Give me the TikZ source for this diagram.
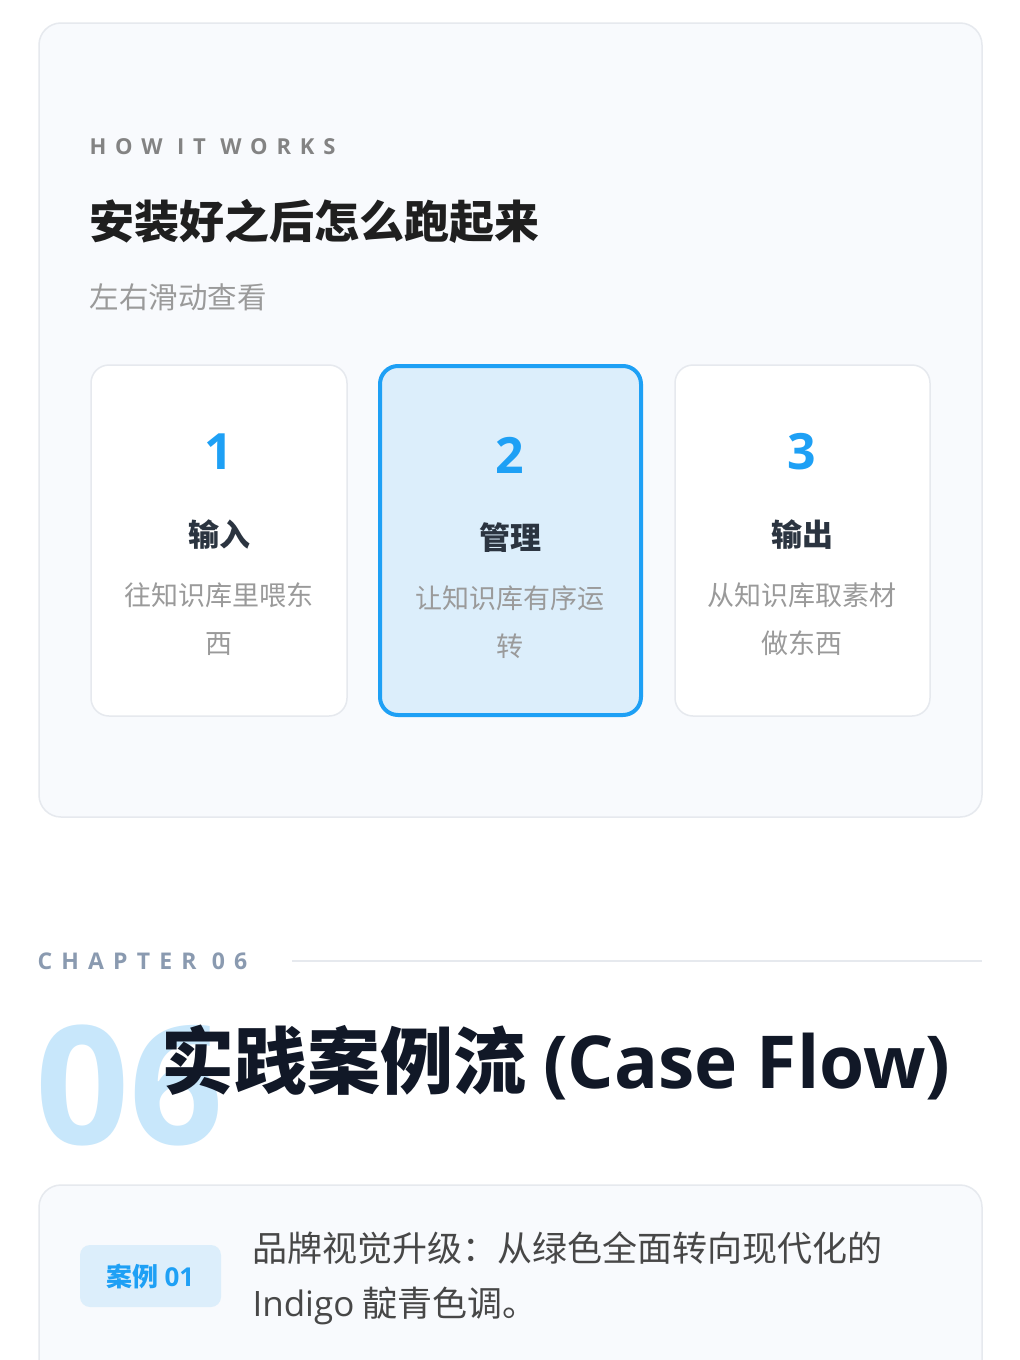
\documentclass[tikz,border=0pt]{standalone}
\usepackage{fontspec}
\setmainfont{Noto Sans CJK SC}
\newfontfamily\latinf{Open Sans}
\newfontfamily\spaced[LetterSpace=40]{Open Sans}
\definecolor{cardbg}{HTML}{F8FAFD}
\definecolor{cardln}{HTML}{E6E9EE}
\definecolor{blue}{HTML}{1EA0F5}
\definecolor{lblue}{HTML}{DCEEFB}
\definecolor{big}{HTML}{C8E7FB}
\definecolor{ttl}{HTML}{2B3440}
\definecolor{gr}{HTML}{9A9A9A}
\definecolor{dark}{HTML}{111827}
\definecolor{chap}{HTML}{8A9AB0}
\tikzset{
  card/.style={draw=cardln,line width=1.5pt,rounded corners=18pt,fill=white},
  num/.style={text=blue,font=\latinf\bfseries\fontsize{50}{50}\selectfont},
  ctitle/.style={text=ttl,font=\bfseries\fontsize{31}{31}\selectfont},
  cdesc/.style={text=gr,font=\fontsize{27}{48}\selectfont,align=center}
}
\begin{document}
\begin{tikzpicture}[x=1pt,y=-1pt]
\useasboundingbox (0,0) rectangle (1020,1360);
\clip (0,0) rectangle (1020,1360);
\fill[white] (0,0) rectangle (1020,1360);
\draw[draw=cardln,line width=1.5pt,fill=cardbg,rounded corners=22pt] (39,23) rectangle (982,817);
\node[anchor=west,text=gr!85!black,font=\spaced\bfseries\fontsize{22}{22}\selectfont] (how) at (86,147) {HOW IT WORKS};
\node[anchor=west,text=black!88,font=\bfseries\fontsize{45}{45}\selectfont] (title) at (86,221) {安装好之后怎么跑起来};
\node[anchor=west,text=gr,font=\fontsize{29.5}{29.5}\selectfont] (sub) at (86,297) {左右滑动查看};
\draw[card] (91,365) rectangle (347,716);
\draw[card,draw=blue,line width=4pt,fill=lblue] (380,366) rectangle (641,715);
\draw[card] (675,365) rectangle (930,716);
\node[num] (n1) at (219,452) {1};
\node[num] (n2) at (510,455) {2};
\node[num] (n3) at (802,452) {3};
\node[ctitle] (t1) at (219,535) {输入};
\node[ctitle] (t2) at (510,538) {管理};
\node[ctitle] (t3) at (802,535) {输出};
\node[cdesc] (d1) at (219,619) {往知识库里喂东\\西};
\node[cdesc] (d2) at (510,622) {让知识库有序运\\转};
\node[cdesc] (d3) at (802,619) {从知识库取素材\\做东西};
\node[anchor=west,text=chap,font=\spaced\bfseries\fontsize{23}{23}\selectfont] (ch) at (34,961) {CHAPTER 06};
\coordinate (l1) at (292,961); \coordinate (l2) at (982,961);
\draw[draw=cardln,line width=1.5pt] (l1) -- (l2);
\node[anchor=west,text=big,font=\latinf\bfseries\fontsize{165}{165}\selectfont] (bg) at (32,1085) {06};
\node[anchor=west,text=dark,font=\bfseries\fontsize{73}{73}\selectfont] (h) at (158,1062) {实践案例流 {\latinf(Case Flow)}};
\draw[draw=cardln,line width=1.5pt,fill=cardbg,rounded corners=22pt] (39,1185) rectangle (982,1420);
\draw[fill=lblue,draw=none,rounded corners=10pt] (80,1245) rectangle (221,1307);
\node[text=blue,font=\bfseries\fontsize{26}{26}\selectfont] (badge) at (150.5,1276) {案例 {\latinf 01}};
\node[anchor=west,text=black!72,font=\fontsize{35}{55}\selectfont,align=left] (txt) at (249,1278) {品牌视觉升级：从绿色全面转向现代化的\\{\latinf Indigo} 靛青色调。};
\end{tikzpicture}
\end{document}
